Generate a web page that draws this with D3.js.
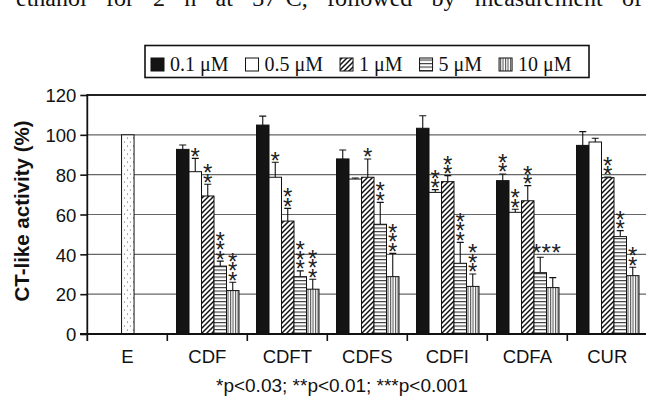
<!DOCTYPE html>
<html>
<head>
<meta charset="utf-8">
<script src="https://cdn.jsdelivr.net/npm/d3@7"></script>
<style>
  body { margin: 0; background: #fff; }
  svg { display: block; }
</style>
</head>
<body>
<div id="chart"></div>
<script>
// data ------------------------------------------------------------------------------------

var categories = ["E", "CDF", "CDFT", "CDFS", "CDFI", "CDFA", "CUR"];
var series = ["0.1 \u03bcM", "0.5 \u03bcM", "1 \u03bcM", "5 \u03bcM", "10 \u03bcM"];

// activity (%) per compound, one column per concentration
var values = {
  CDF:  [92.7, 81.5, 69.3, 34.1, 21.8],
  CDFT: [104.9, 78.7, 56.7, 28.8, 22.5],
  CDFS: [87.9, 77.8, 78.7, 55.1, 28.8],
  CDFI: [103.3, 71.1, 76.5, 35.5, 23.9],
  CDFA: [77.0, 61.1, 66.9, 30.8, 23.3],
  CUR:  [94.7, 96.4, 78.5, 48.9, 29.3]
};
var errors = {
  CDF:  [2.2, 6.7, 5.9, 2.5, 4.2],
  CDFT: [4.5, 7.5, 6.4, 2.9, 5.0],
  CDFS: [4.5, 0.5, 9.2, 11.0, 11.7],
  CDFI: [6.3, 1.4, 3.0, 10.5, 6.2],
  CDFA: [3.3, 1.5, 7.6, 7.7, 5.0],
  CUR:  [6.9, 1.9, 0.3, 3.0, 4.2]
};
// number of asterisks above each bar
var stars = {
  CDF:  [0, 1, 2, 3, 3],
  CDFT: [0, 1, 2, 3, 3],
  CDFS: [0, 0, 1, 2, 3],
  CDFI: [0, 2, 2, 3, 3],
  CDFA: [2, 2, 2, 3, 0],
  CUR:  [0, 0, 2, 2, 2]
};
// asterisks that are written in a row instead of a column
var rowStars = [["CDFA", 3]];
var controlValue = 100;

var yTicks = [0, 20, 40, 60, 80, 100, 120];
var topText = "ethanol for 2 h at 37\u00b0C, followed by measurement of";
var note = "*p<0.03; **p<0.01; ***p<0.001";

// layout ----------------------------------------------------------------------------------

var W = 646, H = 405;
var svg = d3.select("#chart").append("svg")
  .attr("width", W)
  .attr("height", H);

var sans = "Liberation Sans, Arial, Helvetica, sans-serif";
var serif = "Liberation Serif, Times New Roman, serif";

var x = d3.scaleBand().domain(categories).range([87.3, 647.3]).padding(0);
var xs = d3.scaleBand().domain(d3.range(series.length)).range([0, 62.5]);
var groupOffset = 9.2;
var y = d3.scaleLinear().domain([0, 120]).range([334, 95]);

// patterns
var defs = svg.append("defs");

var pDiag = defs.append("pattern").attr("id", "p-diag")
  .attr("patternUnits", "userSpaceOnUse").attr("width", 5).attr("height", 5);
pDiag.append("rect").attr("width", 5).attr("height", 5).attr("fill", "#fff");
pDiag.append("path").attr("d", "M-1,6 L6,-1 M-1,1 L1,-1 M4,6 L6,4")
  .attr("stroke", "#111").attr("stroke-width", 1.5);

var pHor = defs.append("pattern").attr("id", "p-hor")
  .attr("patternUnits", "userSpaceOnUse").attr("width", 4).attr("height", 3.5);
pHor.append("rect").attr("width", 4).attr("height", 3.5).attr("fill", "#fff");
pHor.append("line").attr("x1", 0).attr("x2", 4).attr("y1", 0.6).attr("y2", 0.6)
  .attr("stroke", "#222").attr("stroke-width", 1);

var pVer = defs.append("pattern").attr("id", "p-ver")
  .attr("patternUnits", "userSpaceOnUse").attr("width", 2.5).attr("height", 4);
pVer.append("rect").attr("width", 2.5).attr("height", 4).attr("fill", "#fff");
pVer.append("line").attr("x1", 0.6).attr("x2", 0.6).attr("y1", 0).attr("y2", 4)
  .attr("stroke", "#333").attr("stroke-width", 0.9);

var pDot = defs.append("pattern").attr("id", "p-dot")
  .attr("patternUnits", "userSpaceOnUse").attr("width", 6).attr("height", 8);
pDot.append("rect").attr("width", 6).attr("height", 8).attr("fill", "#fff");
pDot.append("circle").attr("cx", 1.5).attr("cy", 2).attr("r", 0.6).attr("fill", "#444");
pDot.append("circle").attr("cx", 4.5).attr("cy", 6).attr("r", 0.6).attr("fill", "#444");

var fills = ["#141414", "#fff", "url(#p-diag)", "url(#p-hor)", "url(#p-ver)"];

// clipped running text at the very top
svg.append("text")
  .attr("x", 16).attr("y", 6)
  .attr("font-family", serif).attr("font-size", 24)
  .attr("fill", "#111")
  .attr("class", "toptext")
  .text(topText);
var tt = svg.select(".toptext");
var tLen = tt.node().getComputedTextLength();
var gaps = topText.split(" ").length - 1;
tt.attr("word-spacing", ((642 - 16 - tLen) / gaps) + "px");

// gridlines
svg.append("g").selectAll("line")
  .data(yTicks.filter(function(d){ return d > 0; }))
  .enter().append("line")
  .attr("x1", 87).attr("x2", W)
  .attr("y1", function(d){ return y(d); })
  .attr("y2", function(d){ return y(d); })
  .attr("stroke", function(d){ return d === 120 ? "#222" : "#666"; })
  .attr("stroke-width", function(d){ return d === 120 ? 1.8 : 1.1; });

// control bar (E)
var ex = x("E") + x.bandwidth() / 2 - xs.bandwidth() / 2 + 0.5;
svg.append("rect")
  .attr("x", ex).attr("y", y(controlValue))
  .attr("width", xs.bandwidth())
  .attr("height", y(0) - y(controlValue))
  .attr("fill", "url(#p-dot)")
  .attr("stroke", "#111").attr("stroke-width", 1);

// grouped bars
var rows = [];
categories.slice(1).forEach(function(c){
  values[c].forEach(function(v, i){
    rows.push({cat: c, i: i, v: v, e: errors[c][i], s: stars[c][i]});
  });
});

function barX(d){ return x(d.cat) + groupOffset + xs(d.i); }
function barMid(d){ return barX(d) + xs.bandwidth() / 2; }

var bars = svg.append("g");

// error bars (drawn under the bar so only the upper half shows)
bars.selectAll(".err")
  .data(rows).enter().append("path")
  .attr("class", "err")
  .attr("d", function(d){
    var cx = barMid(d), top = y(d.v + d.e);
    return "M" + cx + "," + y(d.v) + "V" + top + "M" + (cx - 3.5) + "," + top + "H" + (cx + 3.5);
  })
  .attr("fill", "none")
  .attr("stroke", "#111").attr("stroke-width", 1.1);

bars.selectAll(".bar")
  .data(rows).enter().append("rect")
  .attr("class", "bar")
  .attr("x", barX)
  .attr("y", function(d){ return y(d.v); })
  .attr("width", xs.bandwidth())
  .attr("height", function(d){ return y(0) - y(d.v); })
  .attr("fill", function(d){ return fills[d.i]; })
  .attr("stroke", "#111").attr("stroke-width", 1);

// asterisks
var starSize = 24, starStep = 9.5, starLift = 0.58 * starSize;
var isRow = function(d){
  return rowStars.some(function(r){ return r[0] === d.cat && r[1] === d.i; });
};
var starG = svg.append("g")
  .attr("font-family", sans).attr("font-size", starSize)
  .attr("fill", "#222").attr("text-anchor", "middle");

rows.filter(function(d){ return d.s > 0 && !isRow(d); }).forEach(function(d){
  var base = y(d.v + d.e) - 7.5;
  d3.range(d.s).forEach(function(k){
    starG.append("text")
      .attr("x", barMid(d))
      .attr("y", base - k * starStep + starLift)
      .text("*");
  });
});
rows.filter(function(d){ return d.s > 0 && isRow(d); }).forEach(function(d){
  starG.append("text")
    .attr("x", barX(d) + xs.bandwidth())
    .attr("y", y(d.v + d.e) - 10.5 + starLift)
    .attr("letter-spacing", 0.5)
    .text(d3.range(d.s).map(function(){ return "*"; }).join(""));
});

// y axis
var yAxis = svg.append("g")
  .attr("transform", "translate(87.3,0)")
  .call(d3.axisLeft(y).tickValues(yTicks).tickSize(7).tickPadding(4));
yAxis.select(".domain").remove();
yAxis.append("line").attr("x1", 0).attr("x2", 0).attr("y1", y(120) - 1).attr("y2", 341)
  .attr("stroke", "#111").attr("stroke-width", 1.8);
yAxis.selectAll(".tick line").attr("stroke", "#111").attr("stroke-width", 1.6);
yAxis.selectAll(".tick text")
  .attr("font-family", sans).attr("font-size", 18.5).attr("fill", "#111")
  .attr("dy", "0.36em");

// x axis
svg.append("line")
  .attr("x1", 80).attr("x2", W).attr("y1", y(0)).attr("y2", y(0))
  .attr("stroke", "#111").attr("stroke-width", 1.8);
svg.append("g").selectAll("line")
  .data(categories.slice(1))
  .enter().append("line")
  .attr("x1", function(d){ return x(d); })
  .attr("x2", function(d){ return x(d); })
  .attr("y1", y(0)).attr("y2", y(0) + 7)
  .attr("stroke", "#111").attr("stroke-width", 1.6);

var xAxis = svg.append("g")
  .attr("transform", "translate(0," + y(0) + ")")
  .call(d3.axisBottom(x).tickSize(0).tickPadding(16));
xAxis.select(".domain").remove();
xAxis.selectAll(".tick text")
  .attr("font-family", sans).attr("font-size", 18.5).attr("fill", "#111");

// axis title
svg.append("text")
  .attr("transform", "translate(29,211) rotate(-90)")
  .attr("text-anchor", "middle")
  .attr("font-family", sans).attr("font-weight", "bold").attr("font-size", 20.5)
  .attr("fill", "#111")
  .text("CT-like activity (%)");

// significance note
svg.append("text")
  .attr("x", 342).attr("y", 392)
  .attr("text-anchor", "middle")
  .attr("font-family", sans).attr("font-size", 19)
  .attr("fill", "#111")
  .text(note);

// legend
var legend = svg.append("g");
legend.append("rect")
  .attr("x", 145).attr("y", 45.5).attr("width", 444).attr("height", 32)
  .attr("fill", "#fff").attr("stroke", "#111").attr("stroke-width", 1.6);

var lx = 151;
series.forEach(function(s, i){
  legend.append("rect")
    .attr("x", lx).attr("y", 58).attr("width", 13).attr("height", 13)
    .attr("fill", fills[i]).attr("stroke", "#111").attr("stroke-width", 1);
  var t = legend.append("text")
    .attr("x", lx + 19).attr("y", 71)
    .attr("font-family", serif).attr("font-size", 20).attr("fill", "#111")
    .text(s);
  lx += 19 + t.node().getComputedTextLength() + 17;
});
</script>
</body>
</html>
